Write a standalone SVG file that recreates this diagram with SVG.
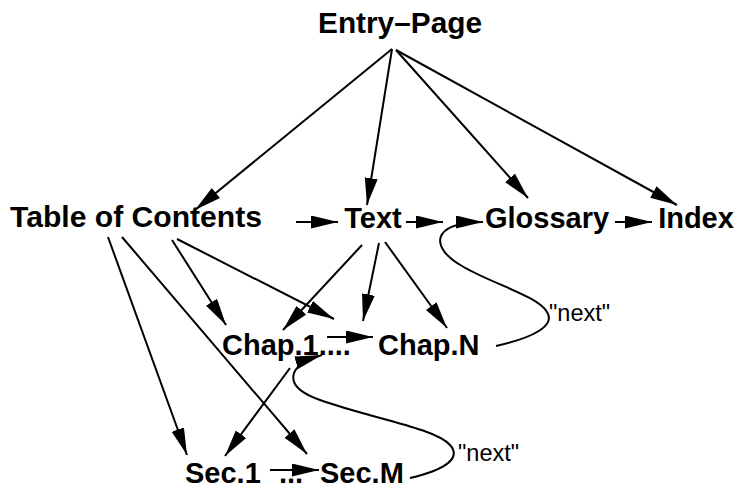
<svg xmlns="http://www.w3.org/2000/svg" width="737" height="489" viewBox="0 0 737 489">
<defs>
<style>
.n{font-family:"Liberation Sans",Arial,sans-serif;font-weight:bold;font-size:29px;fill:#000}
.l{font-family:"Liberation Sans",Arial,sans-serif;font-size:23.5px;fill:#000}
.e{fill:none;stroke:#000;stroke-width:2;marker-end:url(#ah)}
</style>
<marker id="ah" markerUnits="userSpaceOnUse" markerWidth="30" markerHeight="16" refX="27" refY="6.5" orient="auto">
<path d="M0,0 L27,6.5 L0,13 z" fill="#000"/>
</marker>
</defs>
<rect width="737" height="489" fill="#fff"/>
<g id="edges">
<line class="e" x1="392" y1="49" x2="195" y2="210"/>
<line class="e" x1="392" y1="49" x2="367" y2="205"/>
<line class="e" x1="396" y1="50" x2="528" y2="198"/>
<line class="e" x1="396" y1="50" x2="677" y2="205"/>
<line class="e" x1="296" y1="222" x2="338" y2="222"/>
<line class="e" x1="406" y1="222" x2="443" y2="222"/>
<line class="e" x1="615" y1="222" x2="652" y2="222"/>
<line class="e" x1="108" y1="237" x2="187" y2="455"/>
<line class="e" x1="122" y1="237" x2="307" y2="454"/>
<line class="e" x1="172" y1="240" x2="226" y2="325"/>
<line class="e" x1="177" y1="239" x2="334" y2="319"/>
<line class="e" x1="362" y1="245" x2="283" y2="330"/>
<line class="e" x1="379" y1="243" x2="363" y2="321"/>
<line class="e" x1="385" y1="242" x2="447" y2="328"/>
<line class="e" x1="327" y1="337" x2="373" y2="337"/>
<line class="e" x1="290" y1="368" x2="225" y2="456"/>
<line class="e" x1="270" y1="470" x2="319" y2="470"/>
<path class="e" d="M496,346 C532,338 556,326 547,312 C538,296 490,283 462,266 C430,248 430,222 483,222"/>
<path class="e" d="M410,478 C445,470 462,458 450,445 C435,428 370,418 320,400 C283,387 285,366 322,355"/>
</g>
<g id="entry"><text class="n" x="318" y="33" textLength="164" lengthAdjust="spacingAndGlyphs">Entry–Page</text></g>
<g id="toc"><text class="n" x="10" y="227" textLength="252" lengthAdjust="spacingAndGlyphs">Table of Contents</text></g>
<g id="text"><text class="n" x="373" y="228" text-anchor="middle">Text</text></g>
<g id="glossary"><text class="n" x="547" y="228" text-anchor="middle">Glossary</text></g>
<g id="index"><text class="n" x="696" y="228" text-anchor="middle">Index</text></g>
<g id="chap1"><text class="n" x="222" y="355">Chap.1....</text></g>
<g id="chapN"><text class="n" x="378" y="355">Chap.N</text></g>
<g id="sec1"><text class="n" x="185" y="483">Sec.1</text></g>
<g id="dots"><text class="n" x="279" y="483">...</text></g>
<g id="secM"><text class="n" x="320" y="483">Sec.M</text></g>
<g id="labels">
<text class="l" x="549" y="321">"next"</text>
<text class="l" x="458" y="461">"next"</text>
</g>
</svg>
